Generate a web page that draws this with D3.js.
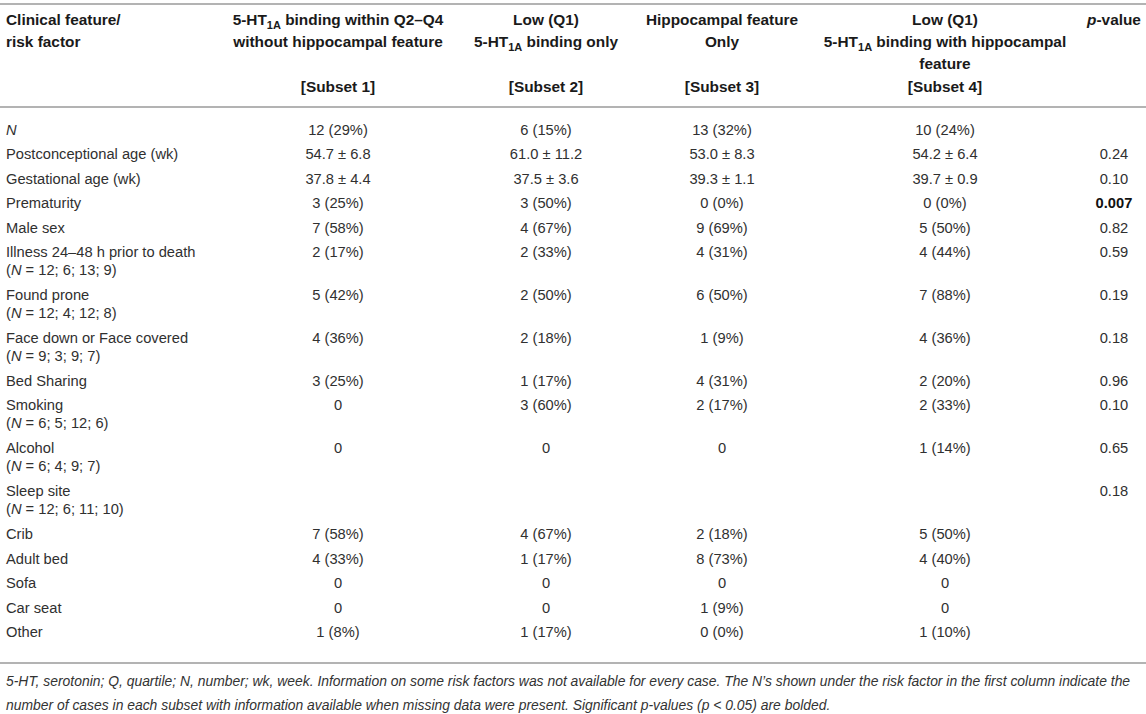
<html>
<head>
<meta charset="utf-8">
<style>
  body { margin: 0; background: #fff; }
  svg { display: block; font-family: "Liberation Sans", Arial, sans-serif; }
  .cell { font-size: 14.7px; fill: #303030; }
  .head { font-size: 15.4px; font-weight: bold; fill: #1a1a1a; }
  .note { font-size: 13.9px; font-style: italic; fill: #333; }
  .rule { stroke: #b3b3b3; stroke-width: 2; }
</style>
</head>
<body>
<svg width="1146" height="714"></svg>
<script src="https://d3js.org/d3.v7.min.js"></script>
<script>
// table content
const features = ["N", "Postconceptional age (wk)", "Gestational age (wk)", "Prematurity", "Male sex",
  "Illness 24\u201348 h prior to death", "Found prone", "Face down or Face covered", "Bed Sharing",
  "Smoking", "Alcohol", "Sleep site", "Crib", "Adult bed", "Sofa", "Car seat", "Other"];
const featureN = ["", "", "", "", "", "12; 6; 13; 9", "12; 4; 12; 8", "9; 3; 9; 7", "",
  "6; 5; 12; 6", "6; 4; 9; 7", "12; 6; 11; 10", "", "", "", "", ""];
const subset1 = ["12 (29%)", "54.7 \u00b1 6.8", "37.8 \u00b1 4.4", "3 (25%)", "7 (58%)", "2 (17%)", "5 (42%)",
  "4 (36%)", "3 (25%)", "0", "0", "", "7 (58%)", "4 (33%)", "0", "0", "1 (8%)"];
const subset2 = ["6 (15%)", "61.0 \u00b1 11.2", "37.5 \u00b1 3.6", "3 (50%)", "4 (67%)", "2 (33%)", "2 (50%)",
  "2 (18%)", "1 (17%)", "3 (60%)", "0", "", "4 (67%)", "1 (17%)", "0", "0", "1 (17%)"];
const subset3 = ["13 (32%)", "53.0 \u00b1 8.3", "39.3 \u00b1 1.1", "0 (0%)", "9 (69%)", "4 (31%)", "6 (50%)",
  "1 (9%)", "4 (31%)", "2 (17%)", "0", "", "2 (18%)", "8 (73%)", "0", "1 (9%)", "0 (0%)"];
const subset4 = ["10 (24%)", "54.2 \u00b1 6.4", "39.7 \u00b1 0.9", "0 (0%)", "5 (50%)", "4 (44%)", "7 (88%)",
  "4 (36%)", "2 (20%)", "2 (33%)", "1 (14%)", "", "5 (50%)", "4 (40%)", "0", "0", "1 (10%)"];
const pValues = ["", "0.24", "0.10", "0.007", "0.82", "0.59", "0.19", "0.18", "0.96", "0.10", "0.65", "0.18",
  "", "", "", "", ""];
const subsetLabels = ["[Subset 1]", "[Subset 2]", "[Subset 3]", "[Subset 4]"];
const footnote = [
  "5-HT, serotonin; Q, quartile; N, number; wk, week. Information on some risk factors was not available for every case. The N\u2019s shown under the risk factor in the first column indicate the",
  "number of cases in each subset with information available when missing data were present. Significant p-values (p < 0.05) are bolded."
];

const svg = d3.select("svg");
const W = 1146;

// column layout
const cols = ["s1", "s2", "s3", "s4", "p"];
const colX = d3.scaleOrdinal().domain(cols).range([338, 546, 722, 945, 1114]);
const labelX = 6;

// header block
const headY = d3.scaleLinear().domain([0, 1]).range([25, 47]);   // header line -> baseline
svg.append("line").attr("class", "rule").attr("x1", 0).attr("x2", W).attr("y1", 4).attr("y2", 4);

const h = svg.append("g");
h.append("text").attr("class", "head").attr("x", labelX).attr("y", headY(0)).text("Clinical feature/");
h.append("text").attr("class", "head").attr("x", labelX).attr("y", headY(1)).text("risk factor");

// header cell, {sub: ".."} parts are subscripts
function ht(parent, x, line, parts) {
  const t = parent.append("text").attr("class", "head").attr("x", x).attr("y", headY(line))
    .attr("text-anchor", "middle");
  let shift = 0;
  parts.forEach(p => {
    if (typeof p === "string") {
      t.append("tspan").attr("dy", -shift).text(p);
      shift = 0;
    } else {
      t.append("tspan").attr("dy", 3.5).attr("font-size", "11px").text(p.sub);
      shift = 3.5;
    }
  });
  return t;
}
ht(h, colX("s1"), 0, ["5-HT", {sub: "1A"}, " binding within Q2\u2013Q4"]);
ht(h, colX("s1"), 1, ["without hippocampal feature"]);
ht(h, colX("s2"), 0, ["Low (Q1)"]);
ht(h, colX("s2"), 1, ["5-HT", {sub: "1A"}, " binding only"]);
ht(h, colX("s3"), 0, ["Hippocampal feature"]);
ht(h, colX("s3"), 1, ["Only"]);
ht(h, colX("s4"), 0, ["Low (Q1)"]);
ht(h, colX("s4"), 1, ["5-HT", {sub: "1A"}, " binding with hippocampal"]);
ht(h, colX("s4"), 2, ["feature"]);
cols.slice(0, 4).forEach((c, i) => {
  h.append("text").attr("class", "head").attr("x", colX(c)).attr("y", headY(3) + 0.5)
    .attr("text-anchor", "middle").text(subsetLabels[i]);
});
const pv = h.append("text").attr("class", "head").attr("x", colX("p")).attr("y", headY(0)).attr("text-anchor", "middle");
pv.append("tspan").attr("font-style", "italic").text("p");
pv.append("tspan").text("-value");

svg.append("line").attr("class", "rule").attr("x1", 0).attr("x2", W).attr("y1", 107).attr("y2", 107);

// body rows
const rows = features.map((f, i) => ({
  label: f, n: featureN[i], vals: [subset1[i], subset2[i], subset3[i], subset4[i]], p: pValues[i]
}));
let acc = 0;
rows.forEach(r => { r.y0 = acc; acc += r.n ? 43 : 24.4; });
const y = d3.scaleLinear().domain([0, 1]).range([135, 136]);

const row = svg.selectAll("g.row").data(rows).enter().append("g").attr("class", "row")
  .attr("transform", d => "translate(0," + y(d.y0) + ")");

row.append("text").attr("class", "cell").attr("x", labelX).attr("y", 0)
  .attr("font-style", d => d.label === "N" ? "italic" : null)
  .text(d => d.label);

const nl = row.filter(d => d.n).append("text").attr("class", "cell").attr("x", labelX).attr("y", 18);
nl.append("tspan").text("(");
nl.append("tspan").attr("font-style", "italic").text("N");
nl.append("tspan").text(d => " = " + d.n + ")");

cols.slice(0, 4).forEach((c, i) => {
  row.append("text").attr("class", "cell").attr("x", colX(c)).attr("y", 0)
    .attr("text-anchor", "middle").text(d => d.vals[i]);
});
const sig = d => d.p !== "" && +d.p < 0.05;
row.append("text").attr("class", "cell").attr("x", colX("p")).attr("y", 0).attr("text-anchor", "middle")
  .attr("font-weight", d => sig(d) ? "bold" : null)
  .style("fill", d => sig(d) ? "#111" : null)
  .text(d => d.p);

svg.append("line").attr("class", "rule").attr("x1", 0).attr("x2", W).attr("y1", 663).attr("y2", 663);

// footnote
svg.selectAll("text.note").data(footnote).enter().append("text").attr("class", "note")
  .attr("x", labelX).attr("y", (d, i) => 686 + i * 23.5).text(d => d);
</script>
</body>
</html>
